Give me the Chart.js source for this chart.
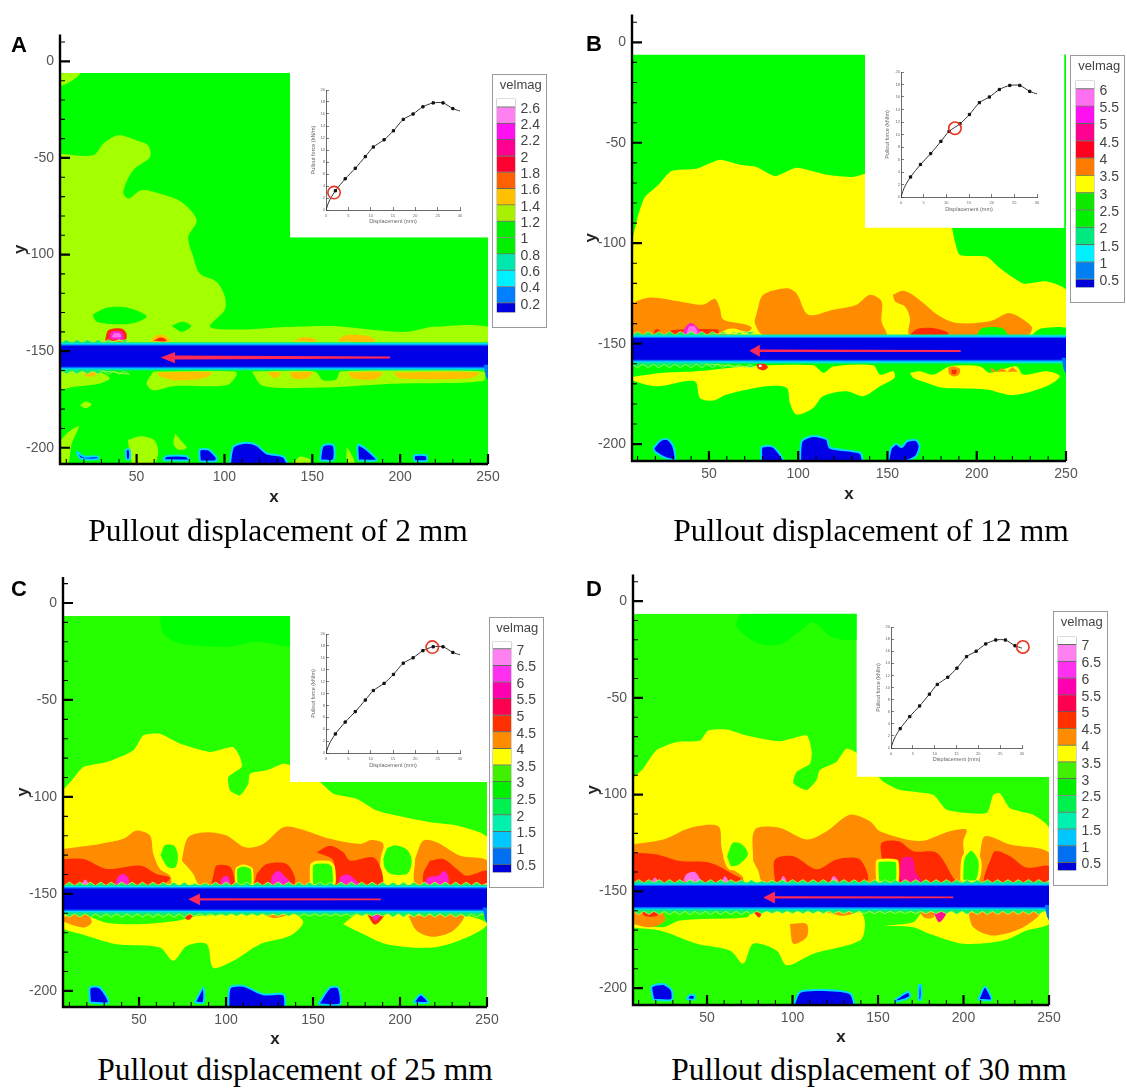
<!DOCTYPE html>
<html><head><meta charset="utf-8">
<script src="https://cdn.jsdelivr.net/npm/chart.js@4"></script>
<style>
html,body{margin:0;padding:0;background:#fff;width:1127px;height:1088px;overflow:hidden}
canvas{position:absolute;filter:blur(.45px)}
.cap{position:absolute;font:31.5px "Liberation Serif",serif;color:#000;white-space:nowrap;text-align:center;line-height:36px}
.let{position:absolute;font:bold 22px "Liberation Sans",sans-serif;color:#000;line-height:22px}
.box{position:absolute;border:1.5px solid #9a9a9a;box-sizing:border-box;background:#fff}
.box canvas{left:0;top:0}
</style></head><body>
<script>
/* ---------- tick values ---------- */
const xTicks=[50,100,150,200,250];
const yTicks=[0,-50,-100,-150,-200];
const xMinor=[10,20,30,40,60,70,80,90,110,120,130,140,160,170,180,190,210,220,230,240];
const yMinor=[10,-10,-20,-30,-40,-60,-70,-80,-90,-110,-120,-130,-140,-160,-170,-180,-190];
const levelsA=[0.2,0.4,0.6,0.8,1,1.2,1.4,1.6,1.8,2,2.2,2.4,2.6];
const levelsB=[0.5,1,1.5,2,2.5,3,3.5,4,4.5,5,5.5,6];
const levelsC=[0.5,1,1.5,2,2.5,3,3.5,4,4.5,5,5.5,6,6.5,7];
const coloursA=['#0000e0','#0080ff','#00f0ff','#00e8b0','#00f000','#00f000','#a8f000','#ffc000','#ff6000','#ff0030','#ff0090','#ff10f0','#ff80f0','#ffffff'];
const coloursB=['#0000d8','#0080f0','#00f0ff','#00e880','#00f000','#10e800','#ffff00','#ff7a00','#ff0020','#ff0090','#ff10f0','#ff70f0','#ffffff'];
const coloursC=['#0000d8','#0070f0','#00c8ff','#00f0b0','#00f050','#00f000','#40f000','#ffff00','#ff8c00','#ff3000','#ff0050','#ff00b0','#ff30f0','#ff80f0','#ffffff'];
/* ---------- inset curve ---------- */
const curveDisp=[0,0.5,1,2.1,4.3,6.55,8.8,10.6,13,15.1,17.3,19.5,21.7,24,26.2,28.4,30];
const curveForce=[0,1.1,1.9,3.2,5.2,6.95,8.9,10.5,11.7,13.2,15.1,16,17.2,17.85,17.85,16.9,16.5];
const markDisp=[2.1,4.3,6.55,8.8,10.6,13,15.1,17.3,19.5,21.7,24,26.2,28.4];
const markForce=[3.2,5.2,6.95,8.9,10.5,11.7,13.2,15.1,16,17.2,17.85,17.85,16.9];
const insetXTicks=[0,5,10,15,20,25,30];
const insetYTicks=[0,2,4,6,8,10,12,14,16,18,20];
/* ---------- shared band edge ---------- */
const teethTop=[[6,-146],[7,-145.6],[10,-143.9],[13,-145.6],[16,-143.9],[19,-145.6],[22,-143.9],[25,-145.6],[28,-143.9],[31,-145.6],[34,-143.9],[37,-145.6],[40,-143.9],[43,-145.6],[46,-143.9],[49,-145.6],[52,-143.9],[55,-145.6],[58,-143.9],[61,-145.6],[64,-143.9],[67,-145.6],[70,-143.9],[73,-145.6],[76,-143.9],[79,-145.6],[82,-144.5],[85,-145.6],[88,-144.2],[91,-145.6],[94,-143.9],[97,-145.6],[100,-143.9],[103,-145.6],[106,-143.9],[109,-145.6],[112,-143.9],[115,-145.6],[118,-143.9],[121,-145.6],[124,-143.9],[127,-145.6],[130,-143.9],[133,-145.6],[136,-143.9],[139,-145.6],[142,-143.9],[145,-145.6],[148,-143.9],[151,-145.6],[154,-143.9],[157,-145.6],[160,-143.9],[163,-145.6],[166,-143.9],[169,-145.6],[172,-143.9],[175,-145.6],[178,-143.9],[181,-145.6],[184,-143.9],[187,-145.6],[190,-143.9],[193,-145.6],[196,-143.9],[199,-145.6],[202,-143.9],[205,-145.6],[208,-143.9],[211,-145.6],[214,-143.9],[217,-145.6],[220,-143.9],[223,-145.6],[226,-143.9],[229,-145.6],[232,-143.9],[235,-145.6],[238,-143.9],[241,-145.6],[244,-143.9],[247,-145.6],[250,-144.5],[250,-148],[6,-148]];
const teethLow=[[6,-157],[250,-157],[250,-161],[247,-160.3],[244,-162],[241,-160.3],[238,-162],[235,-160.3],[232,-162],[229,-160.3],[226,-162],[223,-160.3],[220,-162],[217,-160.3],[214,-162],[211,-160.3],[208,-162],[205,-160.3],[202,-162],[199,-160.3],[196,-162],[193,-160.3],[190,-161.5],[187,-160.3],[184,-161.5],[181,-160.3],[178,-161.5],[175,-160.3],[172,-161.5],[169,-160.3],[166,-161.5],[163,-160.3],[160,-161.5],[157,-160.3],[154,-161.5],[151,-160.3],[148,-161.5],[145,-160.3],[142,-161.5],[139,-160.3],[136,-161.5],[133,-160.3],[130,-161.5],[127,-160.3],[124,-161.5],[121,-160.3],[118,-161.5],[115,-160.3],[112,-161.5],[109,-160.3],[106,-161.5],[103,-160.3],[100,-161.5],[97,-160.3],[94,-161.5],[91,-160.3],[88,-161.5],[85,-160.3],[82,-161.5],[79,-160.3],[76,-162],[73,-160.3],[70,-162],[67,-160.3],[64,-162],[61,-160.3],[58,-162],[55,-160.3],[52,-162],[49,-160.3],[46,-162],[43,-160.3],[40,-162],[37,-160.3],[34,-162],[31,-160.3],[28,-162],[25,-160.3],[22,-162],[19,-160.3],[16,-162],[13,-160.3],[10,-162],[7,-160.3],[6,-161]];
const bandTeal=[[6,-145.4],[250,-145.4],[250,-160],[6,-160]];
const bandCyan=[[6,-145.9],[250,-145.9],[250,-159.4],[6,-159.4]];
const bandAzure=[[6,-146.5],[250,-146.5],[250,-158.8],[6,-158.8]];
const bandBlue=[[6,-147.2],[250,-147.2],[250,-158],[6,-158]];
const flareBlue=[[247.5,-157],[250,-157],[250,-165],[248.8,-163]];

/* ---------- panel A regions ---------- */
const aBase=[[6,-6],[137.3,-6],[137.3,-91],[250,-91],[250,-209],[6,-209]];
const aCover=[[6,15],[251,15],[251,-91],[137.3,-91],[137.3,-6],[6,-6]];
const aCorner=[[6,-6.2],[17.7,-6.2],[12,-10.7],[6,-12.4]];
const aYG=[[6,-47.8],[25.3,-48.6],[31,-42.6],[39.6,-38.3],[50,-40.9],[56.6,-43.5],[57.6,-49.5],[48,-56.4],[42.4,-67.6],[45.3,-71],[52.8,-66.7],[63.3,-68.5],[75.6,-72.8],[84.2,-82.3],[79.4,-90.9],[82.3,-101.2],[86,-109.8],[95.5,-114.1],[100.3,-121.9],[100,-128.8],[91.7,-137.4],[108.8,-138.8],[135,-137.5],[162,-137],[185,-139],[203.7,-140],[218.9,-137.4],[250,-137.4],[250,-146],[6,-146]];
const aHole1=[[25,-131],[33,-127.5],[45,-127.5],[55.7,-132],[48,-135.5],[35,-136],[27,-134.5]];
const aHole2=[[70,-137],[76,-134.8],[81,-137],[76,-140]];
const aAmb1=[[164,-145],[168,-142],[175,-141.5],[183,-142.5],[186,-145]];
const aAmb2=[[139,-145],[143,-143],[150,-143.2],[153,-145]];
const aAmb3=[[57.6,-145],[61,-142],[66,-141.7],[69,-145]];
const aRed3=[[59.5,-144.8],[63,-143],[66,-143.5],[67,-144.8]];
const aRed=[[32,-144.6],[33.5,-139.5],[37,-138.3],[42,-138.5],[44.3,-141],[43.5,-144.6]];
const aMag=[[34.5,-143.8],[35.5,-140],[41.5,-140],[42.5,-143.8]];
const aPink=[[36,-142.8],[37,-140.8],[40.5,-140.8],[41,-142.8]];
const aLow1=[[6,-161],[29,-161],[34.8,-164],[29,-166.7],[14,-168.5],[6,-169.3]];
const aLow2=[[59.5,-160.5],[106,-160.5],[106.9,-162.4],[101.2,-167.6],[70.9,-168.1],[59.5,-170.2],[55.7,-166.7]];
const aLow3=[[115.5,-160.5],[151.6,-160.5],[156,-165],[163.8,-164.5],[166,-160.5],[247.3,-160.5],[247.3,-165.5],[200,-166.7],[181,-167.6],[154.4,-168.8],[122,-168]];
const aLA1=[[20,-161],[27,-161],[26,-163],[21,-163]];
const aLA2=[[62,-161],[93,-161],[88,-164],[72,-165],[63,-163]];
const aLA3=[[124,-161],[132,-161],[129,-164]];
const aLA4=[[137,-161],[150,-161],[147,-164],[139,-164]];
const aLA5=[[170,-161],[190,-161],[186,-164.5],[173,-164]];
const aLA6=[[196,-161],[245,-161],[240,-164],[200,-164]];
const aBlobY1=[[45,-196],[52,-194],[60,-196],[62.3,-202],[60,-208],[48,-208],[46,-202]];
const aBlobY2=[[72,-192.6],[75,-196],[78.5,-200],[74,-201],[71,-198]];
const aBlobY3=[[17.7,-178],[21,-176],[24.4,-177.5],[21,-179.6]];
const aBlobY4=[[6,-197],[11,-192],[17,-189],[13,-198],[11,-208],[6,-208]];
const aBlobY5=[[139,-208],[143,-204.6],[148.6,-206],[148.6,-208]];
const aBlobY6=[[169.5,-199.5],[172,-203],[174,-208],[170,-208]];
const aB1=[[103,-209],[105,-199.5],[111.7,-197.4],[118.3,-198.6],[124,-202.9],[133.5,-204.6],[135.4,-209]];
const aB2=[[154.4,-206.4],[156,-199],[162,-198.6],[162,-206.4]];
const aB3=[[176,-206.4],[176,-198.6],[181,-201],[186.6,-206.4]];
const aB4=[[86,-207],[86,-201],[91,-201],[95.5,-205],[95,-207]];
const aB5=[[65,-206.4],[67,-204.3],[78,-204.3],[80,-206.4]];
const aB6=[[15.8,-202],[20,-204.5],[28,-204.5],[28,-205.8],[18,-205.5]];
const aB7=[[208,-206.8],[208,-204],[215,-204],[215,-206.8]];
const aB8=[[44,-206],[44,-201],[46,-201],[46,-206]];
const aArrow=[[194.2,-152.8],[71.8,-152.3],[71.8,-150.4],[63.7,-153.3],[71.8,-156.2],[71.8,-154.3],[194.2,-153.8]];

/* ---------- panel B regions ---------- */
const bBase=[[6,-6],[137.4,-6],[137.4,-92.3],[250,-92.3],[250,-209],[6,-209]];
const bCover=[[6,15],[249,15],[249,-92.3],[137.4,-92.3],[137.4,-6],[6,-6]];
const bSliver=[[249,-6],[250,-6],[250,-92.3],[249,-92.3]];
const bYellow=[[6,-98],[7.6,-96],[10.4,-86],[14.1,-77],[21.6,-71],[29,-64],[43,-62.9],[56.1,-58.4],[67.3,-60.9],[76.7,-62],[87,-66.5],[99,-62.4],[116,-65.9],[130.8,-67],[139,-65.4],[139,-70],[139,-90],[139,-91],[139,-91.5],[141,-91.5],[184,-91.5],[186,-92.3],[187.8,-99.3],[190.6,-105.9],[205.6,-106.7],[213,-112.5],[226,-120],[239.2,-119],[250,-123.2],[250,-146],[6,-146]];
const bOr1=[[6,-130],[16.9,-127],[33.7,-129],[46.8,-130.6],[53.3,-127.7],[56.1,-132.3],[58,-138],[71,-140.6],[74,-142.2],[70,-145],[6,-145]];
const bOr2=[[76.7,-134.8],[80.4,-125.7],[93.5,-122.4],[99,-124.9],[105.6,-135.6],[119.6,-133.1],[132.7,-130.6],[140.2,-125.7],[146.7,-129],[146.7,-138.9],[149.5,-144.7],[149.5,-145.5],[80.4,-145.5],[75.7,-139.7]];
const bOr3=[[153,-125.7],[158.8,-123.7],[165.4,-126.5],[179.4,-136.4],[188.7,-139.7],[207.4,-138.9],[218.6,-134.8],[230.7,-141.4],[228.9,-145.5],[162.6,-145.5],[162.6,-137.3],[159.8,-131.5],[154.2,-129]];
const bG1=[[200,-145.5],[203,-142.3],[214,-142.2],[217,-145.5]];
const bG2=[[231,-145.5],[236,-142.5],[250,-142],[250,-145.5]];
const bY1=[[56,-145],[60,-143],[64,-142.5],[68,-143.5],[72,-145]];
const bR1=[[162.6,-145.5],[167,-142.6],[175,-142.2],[183,-144],[184,-145.5]];
const bR2=[[26,-145],[30,-143.2],[55,-143],[55,-145]];
const bM=[[35,-145.5],[37,-141.5],[40,-139.7],[43,-141.5],[46,-145.5]];
const bP=[[37.5,-145],[39,-141.5],[42,-141.5],[43.5,-145]];
const bR3=[[19,-145],[20,-143],[22,-143],[23,-145]];
const bLow1=[[6,-166.7],[24.4,-164.5],[43,-163.7],[71,-161.3],[108.4,-160.8],[114,-164.5],[119.6,-161.3],[142,-160.8],[145.8,-165.4],[153.2,-163.7],[154,-167],[145.8,-171.2],[136.4,-176.1],[127,-173.7],[114,-176.1],[108.4,-182],[99,-185.2],[95.3,-179.4],[93.5,-172],[82.3,-171.2],[60,-175.3],[52.4,-178.3],[45,-177],[42,-168.7],[20.7,-171.2],[6,-167.9]];
const bLow2=[[162.6,-164.5],[168,-163.7],[175.6,-165.4],[185,-161.3],[201.8,-161.3],[207.4,-164.5],[222.3,-161.3],[226,-165.4],[239,-163.7],[246.6,-166.2],[239,-171.2],[220.5,-175.6],[205.5,-172.8],[181,-172],[172,-169.5],[164.4,-167]];
const bLR1=[[184,-162],[187,-161.3],[190.6,-162.5],[190,-165.5],[187,-166.3],[184.5,-165]];
const bLR2=[[186,-163],[188.5,-163],[188.5,-165],[186,-165]];
const bLO1=[[208,-161.6],[211,-164],[214,-162],[217,-164],[220,-161.6],[223,-164],[208,-164]];
const bLR3=[[76.7,-160],[80,-159.6],[83,-161.5],[81,-163.2],[77.5,-162.5]];
const bLW=[[78,-160.5],[79.5,-160.5],[79.5,-161.6],[78,-161.6]];
const bB1=[[18.8,-202],[23,-198],[27,-197.6],[30,-201],[31,-207.6],[26,-207],[20,-204]];
const bB2=[[79.5,-208.5],[79.5,-201.5],[85,-201],[88,-203],[91.6,-208.5]];
const bB3=[[101,-209],[102,-198.5],[108.4,-196],[116,-197.6],[117.8,-201.8],[134.6,-204.3],[135.5,-209]];
const bB4=[[150.4,-208.5],[152,-202],[155,-200],[158,-201.5],[161,-198.5],[166,-198],[168,-201],[166,-206],[160,-208.5]];
const bArrow=[[191,-153.1],[78.5,-152.9],[78.5,-150.5],[72.6,-153.5],[78.5,-156.5],[78.5,-154.1],[191,-154.2]];

/* ---------- panel C regions ---------- */
const cBase=[[6,-6.7],[136.8,-6.7],[136.8,-92.3],[250,-92.3],[250,-209],[6,-209]];
const cCover=[[6,15],[251,15],[251,-92.3],[136.8,-92.3],[136.8,-6.7],[6,-6.7]];
const cTop=[[62,-6.7],[140,-6.7],[140,-21.7],[117.6,-20],[100.4,-22.6],[73.5,-20.8],[64,-15.7]];
const cYellow=[[6,-96.6],[11.3,-91.5],[18,-84.6],[31.4,-82],[46.7,-76],[52.5,-68.2],[62,-67.4],[73.5,-72.5],[90.8,-76.8],[104,-74.3],[108,-79.4],[109,-84.6],[101.3,-89.8],[102.3,-96.6],[108,-99.2],[112.8,-93.2],[113.8,-88],[123.4,-86.3],[133,-82.9],[139,-84.6],[139,-90],[139,-91.5],[141,-91.5],[152,-91.5],[154,-92.3],[161.7,-98.3],[175,-100.9],[186.6,-107],[202,-110.4],[217.3,-113],[232.6,-114.7],[250,-120.7],[250,-146],[6,-146]];
const cOr1=[[6,-126.8],[27.6,-124.2],[41,-121.6],[48.6,-117.3],[56.3,-119.9],[58.2,-129.4],[62,-137.1],[67.8,-140.6],[67.8,-145],[6,-145]];
const cOr2=[[74.5,-132.8],[78.3,-120.8],[88.9,-118.2],[100.4,-119.9],[110.9,-126],[121.4,-124.2],[133,-115.6],[142.5,-116.5],[159.8,-121.6],[177,-124.2],[183.7,-122.2],[190.4,-124.2],[188.5,-136.3],[190.4,-143.2],[190.4,-145.2],[85,-145.2],[81.2,-139.7]];
const cOr3=[[208.6,-132],[213.4,-122.5],[221,-123.4],[234.5,-130.3],[250,-132.8],[250,-145.2],[209.6,-145.2]];
const cR1=[[6,-132],[18,-132],[31.4,-137.1],[50.6,-135.4],[60,-139.7],[67.8,-141.5],[64,-144.9],[6,-145.2]];
const cR2=[[92.7,-140.6],[94.6,-135.4],[102.3,-136],[105,-143.2],[104,-145.2],[92,-145.2]];
const cR3=[[117.6,-139.7],[123.3,-134.6],[134.8,-134.6],[139.6,-141.5],[138.7,-145.2],[117,-145.2]];
const cR4=[[152,-128.5],[159.8,-125.1],[167.4,-128.5],[171.3,-132.8],[184.6,-131.1],[189.4,-138],[189.4,-144.9],[162.6,-145.2],[161.7,-132.8]];
const cR5=[[217.2,-132.8],[224.9,-132],[232.6,-137.1],[238.3,-140.6],[250,-138],[250,-145.2],[214.4,-145.2],[213.4,-139.7]];
const cG1=[[61.1,-130.3],[64,-124.2],[70.7,-124.2],[73.5,-130.3],[71.6,-137.1],[65.9,-137.1]];
const cG2=[[106,-145.7],[106,-137],[110,-135.4],[114.7,-137],[114.7,-145.7]];
const cG3=[[149.2,-145.7],[149.2,-135],[152,-133.7],[159,-133.7],[161.7,-136],[161.7,-145.7]];
const cG4=[[189.5,-132],[192,-126],[198,-124.2],[205,-127],[207.6,-133],[205,-140],[195,-140.6],[190.5,-137]];
const cM1=[[36,-145.2],[38,-141],[41,-139.7],[44,-142],[44,-145.2]];
const cM2=[[96.5,-145.2],[98,-141.5],[101,-141],[102.3,-145.2]];
const cM3=[[125.3,-145.2],[127,-140],[130,-138],[134,-141],[137.7,-145.2]];
const cM4=[[164.5,-145.2],[166,-141],[170,-140],[174,-142.5],[177,-145.2]];
const cM5=[[214.4,-145.2],[216,-141.5],[222,-140.5],[226,-138],[227.8,-145.2]];
const cM6=[[17,-145],[19,-142.5],[21,-145]];
const cLow1=[[6,-161],[20,-161.5],[32,-165],[50,-165.6],[71.6,-163.9],[85,-161.3],[138.7,-160.4],[144.4,-164.7],[136.8,-171.6],[119.5,-175.9],[104.2,-184.5],[92.7,-188],[88.9,-175.9],[77.4,-176.8],[69.7,-184.5],[62,-177.6],[37.1,-175.9],[18,-171],[6,-167.5]];
const cLow2=[[167.4,-165.6],[176,-160.4],[200,-160.4],[238.3,-161.3],[250,-165.6],[238.3,-172.5],[219,-177.6],[192.3,-175.9],[177,-169.9]];
const cLO1=[[6,-161.8],[20,-160.4],[22.8,-164.7],[18,-167.3],[6,-164]];
const cLO2=[[204.8,-161.3],[236.4,-161.3],[230.6,-169],[219,-172.1],[209.6,-169]];
const cLO3=[[121.4,-160.8],[134.9,-160.8],[128,-162.6]];
const cLR1=[[180.8,-160],[191.4,-160],[185.6,-165.9]];
const cLM1=[[183.5,-160.6],[188.5,-160.6],[185.8,-164]];
const cLR2=[[76.4,-160.4],[81,-160.4],[79.5,-163],[77,-163]];
const cB1=[[21.8,-206],[21.8,-198.3],[27.6,-198.3],[32.4,-206]];
const cB2=[[82,-206],[87,-198.3],[87,-206]];
const cB3=[[101.3,-209],[102.3,-198.3],[110,-197.4],[121.4,-201.8],[133,-201.8],[133,-209]];
const cB4=[[153,-206.9],[159.7,-198.3],[164.5,-198.3],[165.5,-206.9]];
const cB5=[[207.6,-206],[211.9,-201.8],[216.3,-206]];
const cArrow=[[189,-152.4],[85,-152.2],[85,-149.8],[78.3,-152.8],[85,-155.8],[85,-153.4],[189,-153.3]];

/* ---------- panel D regions ---------- */
const dBase=[[6,-6.5],[137.6,-6.5],[137.6,-90.8],[250,-90.8],[250,-209],[6,-209]];
const dCover=[[6,15],[251,15],[251,-90.8],[137.6,-90.8],[137.6,-6.5],[6,-6.5]];
const dTop=[[69.3,-6.5],[140,-6.5],[140,-18.9],[123.8,-18.9],[112,-11],[104.4,-15.5],[92.7,-22.4],[79,-21.5],[67.3,-13]];
const dYellow=[[6,-92],[12.7,-86.5],[20.5,-77],[32.2,-72.8],[45.9,-72],[50.7,-66.8],[61.5,-66.3],[73,-69.4],[92.7,-72.4],[108.3,-69.4],[111.2,-77.9],[110.2,-84],[102.4,-88.2],[100.5,-94.1],[108.3,-97.6],[114.1,-92.4],[116,-87.3],[125.8,-83],[131.6,-76.2],[139,-79.6],[139,-89],[139,-90],[141,-90],[149,-90],[150.2,-90.8],[153,-93.3],[162.8,-97.6],[182.3,-100.1],[190.1,-107.8],[213.5,-109.5],[217.4,-100.1],[221.3,-99.3],[227.2,-107],[240.8,-110.4],[250,-117.2],[250,-146],[6,-146]];
const dOr1=[[6,-125.8],[24.4,-123.2],[40,-117.2],[56.6,-116.4],[58.5,-127.5],[61.5,-136],[71.2,-142.9],[67.3,-145.4],[6,-145.4]];
const dOr2=[[77,-134.3],[78,-118.1],[92.7,-117.2],[108.3,-123.2],[120,-118.9],[133.6,-110.4],[145.3,-113.8],[151.1,-118.9],[174.5,-124],[192,-118.9],[201.8,-118.1],[199.9,-124],[198.9,-145.4],[82.9,-145.4],[80,-139.5]];
const dOr3=[[209.6,-130.9],[212.5,-121.5],[227.2,-125.8],[250,-130],[250,-145.4],[208.6,-145.4]];
const dR1=[[6,-130],[20.5,-130.9],[34.2,-134.3],[51.7,-135.2],[65.4,-141.2],[71.2,-144.6],[6,-145.4]];
const dR2=[[89.7,-145],[89.7,-133.5],[100.5,-131.8],[114.1,-138.6],[125.8,-133.5],[139.4,-133.5],[143.3,-145]];
const dR3=[[152.1,-132.6],[152.1,-124.9],[161.9,-124],[170.6,-129.2],[184.3,-130],[194,-142.9],[196,-145.4],[161.9,-145.4]];
const dR4=[[215.5,-134.3],[218.4,-129.2],[227.2,-131.8],[236.9,-137.7],[250,-136.9],[250,-145],[212.5,-144.6],[213.5,-138.6]];
const dG1=[[60.5,-131.8],[64.4,-124],[71.2,-124.9],[75.1,-130.9],[69.3,-136.9],[63.4,-137.7]];
const dG3=[[149.8,-145.4],[149.8,-134.3],[160.9,-134.3],[160.9,-145.4]];
const dG4=[[198.9,-144.6],[199.9,-132.6],[204.7,-128.3],[209.6,-134.3],[207.7,-144.6]];
const dM1=[[162.8,-145.4],[164,-133],[170,-132.6],[172,-140],[175.5,-145.4]];
const dP1=[[36,-145],[38,-141],[43,-140],[46,-145]];
const dP2=[[122,-145],[124,-142],[127,-145]];
const dP3=[[92.7,-145],[94.5,-142],[96.5,-145]];
const dP4=[[58.5,-145],[60.5,-142],[62.4,-145]];
const dP5=[[17.6,-145],[19.5,-142.8],[21.5,-145]];
const dLow1=[[6,-166.8],[24.4,-168.5],[34.2,-165.1],[73.2,-163.4],[77,-160.8],[139.4,-160.8],[142.4,-166.8],[139.4,-175.4],[112.2,-182.2],[96.6,-188.2],[90.7,-180.5],[77,-177],[71.2,-187.3],[63.4,-180.5],[44,-177],[22.5,-170.2],[6,-168.5]];
const dLow2=[[154,-167.7],[170.6,-166],[176.5,-160.8],[248.6,-160.8],[250,-166.8],[236.9,-170.2],[223.3,-175.4],[199.9,-177],[180.4,-172],[170.6,-168.5]];
const dLO1=[[6,-160.8],[23.5,-160.8],[25.4,-165.1],[17.6,-168.5],[6,-166]];
const dLR1=[[11.8,-160.5],[23.5,-160.5],[20,-162.9],[14,-162.9]];
const dLO2=[[98.5,-166.8],[108.3,-166.8],[108.3,-173.6],[100.5,-177]];
const dLO3=[[202.8,-160.8],[244.7,-160.8],[235,-168.5],[217.4,-172.8],[205.7,-168.5]];
const dLO4=[[119,-160.5],[138.5,-160.5],[129,-162.6]];
const dLO5=[[174.5,-160.8],[183,-160.8],[182,-163.8],[177,-163.5]];
const dLM=[[182.3,-160.5],[190.1,-160.5],[185.8,-166]];
const dLR2=[[77,-160.5],[81.9,-160.5],[80.5,-163.5]];
const dB1=[[18.6,-206],[17.6,-199.3],[24.4,-197.9],[29.3,-201],[29.3,-206]];
const dB2=[[38,-205.5],[40,-203.5],[43,-204],[42,-206]];
const dB3=[[100.5,-209],[104.4,-201.9],[118,-201],[133.6,-202.7],[135.5,-209]];
const dB4=[[160,-206],[167.7,-201.9],[168.7,-204.4],[160,-207]];
const dB5=[[173.6,-206],[174,-198.4],[175.2,-198.4],[175.2,-206]];
const dB6=[[208.6,-206],[212.5,-199.3],[216.4,-206]];
const dArrow=[[194,-152.7],[89.7,-152.5],[89.7,-150],[82.9,-153.1],[89.7,-156.2],[89.7,-153.7],[194,-153.5]];

/* ---------- colours ---------- */
const G='#00ff00',G2='#26ff00',YG='#a4ff00',Y='#ffff00',AM='#ffc000',O='#ff8c00',R='#ff2a00',
      RD='#ff0010',MG='#ff20d0',PK='#ff70e8',BL='#0000e6',AZ='#0070ff',CY='#00e0ff',TL='#00e890',
      W='#ffffff',ARW='#ff2a55',CYR='#00d8ff',PY='#e6ff40';

function band(upTo,rim){
  const top=teethTop.filter(p=>p[0]<=upTo), low=teethLow.filter(p=>p[0]<=upTo);
  return [[top,'#14f060',0,0,PY,rim],[low,'#14f060',0,0,PY,rim],[bandTeal,TL,0],[bandCyan,CY,0],[bandAzure,AZ,0],[bandBlue,BL,0],[flareBlue,AZ,0]];
}
function blob(p){return [p,BL,.25,0,CYR,2];}
const layersA=[[aBase,G,0],[aCorner,YG],[aYG,YG],[aHole1,G],[aHole2,G],[aAmb1,AM],[aAmb2,AM],[aAmb3,AM],[aRed3,R],[aRed,R],[aMag,MG],[aPink,PK],
 [aLow1,YG],[aLow2,YG],[aLow3,YG],[aLA1,AM],[aLA2,AM],[aLA3,AM],[aLA4,AM],[aLA5,AM],[aLA6,AM],
 [aBlobY1,YG],[aBlobY2,YG],[aBlobY3,YG],[aBlobY4,YG],[aBlobY5,YG],[aBlobY6,YG],
 blob(aB1),blob(aB2),blob(aB3),blob(aB4),blob(aB5),blob(aB6),blob(aB7),blob(aB8),[aCover,W,0],...band(46,.6),[aArrow,ARW,0]];
const layersB=[[bBase,G,0],[bYellow,Y,.2],[bOr1,O],[bOr2,O],[bOr3,O],[bY1,Y],[bG1,G],[bG2,G],[bR1,R],[bR2,R],[bR3,R],[bM,MG],[bP,PK],
 [bLow1,Y],[bLow2,Y],[bLR1,O],[bLR2,R],[bLO1,O,0],[bLR3,R],[bLW,W,0],
 blob(bB1),blob(bB2),blob(bB3),blob(bB4),[bCover,W,0],[bSliver,G,0],...band(76,.6),[bArrow,ARW,0]];
const layersC=[[cBase,G2,0],[cTop,G],[cYellow,Y,.2],[cOr1,O],[cOr2,O],[cOr3,O],[cR1,R],[cR2,R],[cR3,R],[cR4,R],[cR5,R],
 [cG1,G2,.3,0,Y,4],[cG2,G2,.2,0,Y,2],[cG3,G2,.2,0,Y,3],[cG4,G2,.3,0,Y,3],[cM1,MG],[cM2,MG],[cM3,MG],[cM4,MG],[cM5,MG],[cM6,PK],
 [cLow1,Y],[cLow2,Y],[cLO1,O],[cLO2,O],[cLO3,O],[cLR1,R],[cLM1,MG],[cLR2,R],
 blob(cB1),blob(cB2),blob(cB3),blob(cB4),blob(cB5),[cCover,W,0],...band(250,.7),[cArrow,ARW,0]];
const layersD=[[dBase,G2,0],[dTop,G],[dYellow,Y,.2],[dOr1,O],[dOr2,O],[dOr3,O],[dR1,R],[dR2,R],[dR3,R],[dR4,R],
 [dG1,G2,.3,0,Y,4],[dG3,G2,.15,0,Y,3],[dG4,G2,.3,0,Y,3],[dM1,'#ff1090'],[dP1,PK],[dP2,PK],[dP3,PK],[dP4,PK],[dP5,PK],
 [dLow1,Y],[dLow2,Y],[dLO1,O],[dLR1,R],[dLO2,O],[dLO3,O],[dLO4,O],[dLO5,O],[dLM,'#ff1090'],[dLR2,R],
 blob(dB1),blob(dB2),blob(dB3),blob(dB4),blob(dB5),blob(dB6),[dCover,W,0],...band(250,.7),[dArrow,ARW,0]];

function toDatasets(layers){
  return layers.map((l,i)=>{
    const [pts,col,ten,_u,stroke,sw]=l;
    return {data:[...pts,pts[0]].map(([x,y])=>({x,y})),showLine:true,fill:'shape',backgroundColor:col,
      borderColor:stroke||col,borderWidth:sw||0,pointRadius:0,pointHoverRadius:0,tension:ten===undefined?.3:ten,spanGaps:true,order:-i};
  });
}
function addCanvas(parent,x,y,w,h){
  const c=document.createElement('canvas');c.width=w;c.height=h;
  c.style.width=w+'px';c.style.height=h+'px';
  if(x!==null){c.style.left=x+'px';c.style.top=y+'px';}
  parent.appendChild(c);return c;
}
const axisInk={id:'axisInk',afterDatasetsDraw(chart){
  const {ctx,chartArea:a,scales:{x,y}}=chart;ctx.save();ctx.strokeStyle='#000';
  ctx.lineWidth=1.1;ctx.beginPath();
  yMinor.forEach(v=>{const p=y.getPixelForValue(v);ctx.moveTo(a.left,p);ctx.lineTo(a.left+5,p);});
  xMinor.forEach(v=>{const p=x.getPixelForValue(v);ctx.moveTo(p,a.bottom);ctx.lineTo(p,a.bottom-5);});
  ctx.stroke();
  ctx.lineWidth=2.2;ctx.beginPath();
  yTicks.forEach(v=>{const p=y.getPixelForValue(v);ctx.moveTo(a.left,p);ctx.lineTo(a.left+10,p);});
  xTicks.forEach(v=>{const p=x.getPixelForValue(v);ctx.moveTo(p,a.bottom);ctx.lineTo(p,a.bottom-10);});
  ctx.stroke();
  ctx.lineWidth=2.4;ctx.beginPath();ctx.moveTo(a.left,a.top);ctx.lineTo(a.left,a.bottom);ctx.lineTo(a.right,a.bottom);ctx.stroke();
  ctx.restore();
}};
function mainChart(o){
  const c=addCanvas(document.body,o.cx,o.cy,o.cw,o.ch);
  new Chart(c,{type:'scatter',data:{datasets:toDatasets(o.layers)},plugins:[axisInk],options:{
    responsive:false,animation:false,events:[],
    layout:{padding:{left:0,top:o.T-o.cy,right:o.cx+o.cw-o.R,bottom:0}},
    plugins:{legend:{display:false},tooltip:{enabled:false},title:{display:false}},
    scales:{
      x:{type:'linear',min:o.xmin,max:250,border:{display:false},grid:{display:false,drawTicks:false},
        title:{display:true,text:'x',color:'#222',font:{family:'Liberation Sans',weight:'bold',size:17},padding:{top:o.xtp,bottom:o.xtp}},
        afterBuildTicks:s=>{s.ticks=xTicks.map(v=>({value:v}));},
        afterFit:s=>{s.height=o.cy+o.ch-o.B;},
        ticks:{autoSkip:false,maxRotation:0,color:'#555',padding:5,font:{family:'Liberation Sans',size:14},callback:v=>String(v)}},
      y:{type:'linear',min:o.ymin,max:o.ymax,border:{display:false},grid:{display:false,drawTicks:false},
        title:{display:true,text:'y',color:'#222',font:{family:'Liberation Sans',weight:'bold',size:17},padding:{top:10,bottom:10}},
        afterBuildTicks:s=>{s.ticks=yTicks.map(v=>({value:v}));},
        afterFit:s=>{s.width=o.L-o.cx;},
        ticks:{autoSkip:false,color:'#555',padding:6,font:{family:'Liberation Sans',size:14},callback:v=>String(v)}}
    }}});
}
function insetChart(o){
  const c=addCanvas(document.body,o.x0,o.y0,o.x1-o.x0,o.y1-o.y0);
  const small={family:'Liberation Sans',size:4};
  new Chart(c,{type:'scatter',data:{datasets:[
    {data:[{x:o.hx,y:o.hy}],pointStyle:'circle',pointRadius:6.2,pointBorderColor:'#e8331f',pointBackgroundColor:'rgba(0,0,0,0)',pointBorderWidth:1.6,clip:false,order:0},
    {data:markDisp.map((x,i)=>({x,y:markForce[i]})),pointStyle:'rect',pointRadius:1.6,pointBackgroundColor:'#111',pointBorderColor:'#111',order:1},
    {data:curveDisp.map((x,i)=>({x,y:curveForce[i]})),showLine:true,pointRadius:0,borderColor:'#333',borderWidth:1,tension:.25,order:2}
  ]},options:{responsive:false,animation:false,events:[],
    layout:{padding:{left:0,top:o.t-o.y0,right:o.x1-o.r,bottom:0}},
    plugins:{legend:{display:false},tooltip:{enabled:false}},
    scales:{
      x:{type:'linear',min:0,max:30,border:{color:'#444',width:.8},grid:{drawOnChartArea:false,tickLength:-3,tickColor:'#444',tickWidth:.7},
        title:{display:true,text:'Displacement (mm)',color:'#666',font:{family:'Liberation Sans',size:5.5},padding:{top:o.xt,bottom:o.xt}},
        afterBuildTicks:s=>{s.ticks=insetXTicks.map(v=>({value:v}));},
        afterFit:s=>{s.height=o.y1-o.b;},
        ticks:{autoSkip:false,maxRotation:0,color:'#666',padding:6,font:small,callback:v=>String(v)}},
      y:{type:'linear',min:0,max:20,border:{color:'#444',width:.8},grid:{drawOnChartArea:false,tickLength:-3,tickColor:'#444',tickWidth:.7},
        title:{display:true,text:'Pullout force (kN/m)',color:'#666',font:{family:'Liberation Sans',size:5.5},padding:{top:o.yt,bottom:o.yt}},
        afterBuildTicks:s=>{s.ticks=insetYTicks.map(v=>({value:v}));},
        afterFit:s=>{s.width=o.l-o.x0;},
        ticks:{autoSkip:false,color:'#666',padding:4,font:small,callback:v=>String(v)}}
    }}});
}
function legendChart(o){
  const d=document.createElement('div');d.className='box';
  d.style.cssText=`left:${o.x0}px;top:${o.y0}px;width:${o.x1-o.x0}px;height:${o.y1-o.y0}px`;
  document.body.appendChild(d);
  const w=o.x1-o.x0-3,h=o.y1-o.y0-3;
  const c=addCanvas(d,null,null,w,h);
  const edges=[o.lo,...o.levels,o.hi];
  new Chart(c,{type:'bar',data:{labels:['velmag'],datasets:o.colours.map((col,i)=>({
    data:[[edges[i],edges[i+1]]],backgroundColor:col,borderColor:'rgba(20,40,20,.55)',borderWidth:.8,borderSkipped:false,grouped:false,barPercentage:1,categoryPercentage:1}))},
   options:{responsive:false,animation:false,events:[],
    layout:{padding:{left:o.cellL-o.x0-1.5,right:0,top:0,bottom:o.y1-1.5-o.cellB}},
    plugins:{legend:{display:false},tooltip:{enabled:false},
      title:{display:true,text:'velmag',color:'#444',font:{family:'Liberation Sans',size:13,weight:'normal',lineHeight:1.2},padding:{top:3,bottom:o.cellT-o.y0-1.5-3-15.6}}},
    scales:{
      x:{display:false},
      y:{type:'linear',position:'right',min:o.lo,max:o.hi,border:{display:false},grid:{display:false,drawTicks:false},
        afterBuildTicks:s=>{s.ticks=o.levels.map(v=>({value:v}));},
        afterFit:s=>{s.width=o.x1-1.5-o.cellR;},
        ticks:{autoSkip:false,color:'#444',padding:5,labelOffset:2,font:{family:'Liberation Sans',size:14},callback:v=>String(v)}}
    }}});
}
function text(cls,t,x,y,w){
  const e=document.createElement('div');e.className=cls;e.textContent=t;
  e.style.left=x+'px';e.style.top=y+'px';if(w)e.style.width=w+'px';document.body.appendChild(e);
}

mainChart({cx:0,cy:20,cw:540,ch:510,L:60,R:488,T:34,B:464,xmin:6.4,ymin:-208.4,ymax:13.96,xtp:22,layers:layersA});
mainChart({cx:571,cy:0,cw:540,ch:510,L:632,R:1066,T:12,B:461,xmin:6.9,ymin:-208.4,ymax:13.9,xtp:5,layers:layersB});
mainChart({cx:3,cy:560,cw:540,ch:490,L:63,R:487,T:577,B:1007,xmin:6.3,ymin:-208.3,ymax:13.4,xtp:0,layers:layersC});
mainChart({cx:573,cy:560,cw:520,ch:490,L:633,R:1049,T:571,B:1005,xmin:6.7,ymin:-208.7,ymax:13.8,xtp:2,layers:layersD});

insetChart({x0:292,y0:70,x1:490,y1:236,l:326,r:460,t:90,b:210,yt:18,xt:11,hx:1.8,hy:2.9});
insetChart({x0:867,y0:50,x1:1066,y1:226,l:901,r:1037,t:72,b:197,yt:17,xt:13,hx:11.9,hy:11});
insetChart({x0:293,y0:617,x1:488,y1:781,l:326,r:460,t:634,b:753,yt:17,xt:12,hx:23.8,hy:17.8});
insetChart({x0:858,y0:612,x1:1052,y1:775,l:891,r:1022,t:627,b:748,yt:17,xt:12,hx:30.2,hy:16.7});

legendChart({x0:492,y0:74,x1:547,y1:328,cellL:497,cellR:516,cellT:99,cellB:318,levels:levelsA,colours:coloursA,lo:0.08,hi:2.704});
legendChart({x0:1070,y0:55,x1:1125,y1:303,cellL:1076,cellR:1095,cellT:81,cellB:291,levels:levelsB,colours:coloursB,lo:0.26,hi:6.24});
legendChart({x0:489,y0:617,x1:544,y1:888,cellL:493,cellR:512,cellT:642,cellB:876,levels:levelsC,colours:coloursC,lo:0.26,hi:7.22});
legendChart({x0:1053,y0:611,x1:1108,y1:886,cellL:1058,cellR:1077,cellT:637,cellB:873,levels:levelsC,colours:coloursC,lo:0.26,hi:7.24});

text('cap','Pullout displacement of 2 mm',78,513,400);
text('cap','Pullout displacement of 12 mm',671,513,400);
text('cap','Pullout displacement of 25 mm',95,1052,400);
text('cap','Pullout displacement of 30 mm',669,1052,400);
text('let','A',11,34);text('let','B',586,33);text('let','C',11,578);text('let','D',586,578);
</script>
</body></html>
